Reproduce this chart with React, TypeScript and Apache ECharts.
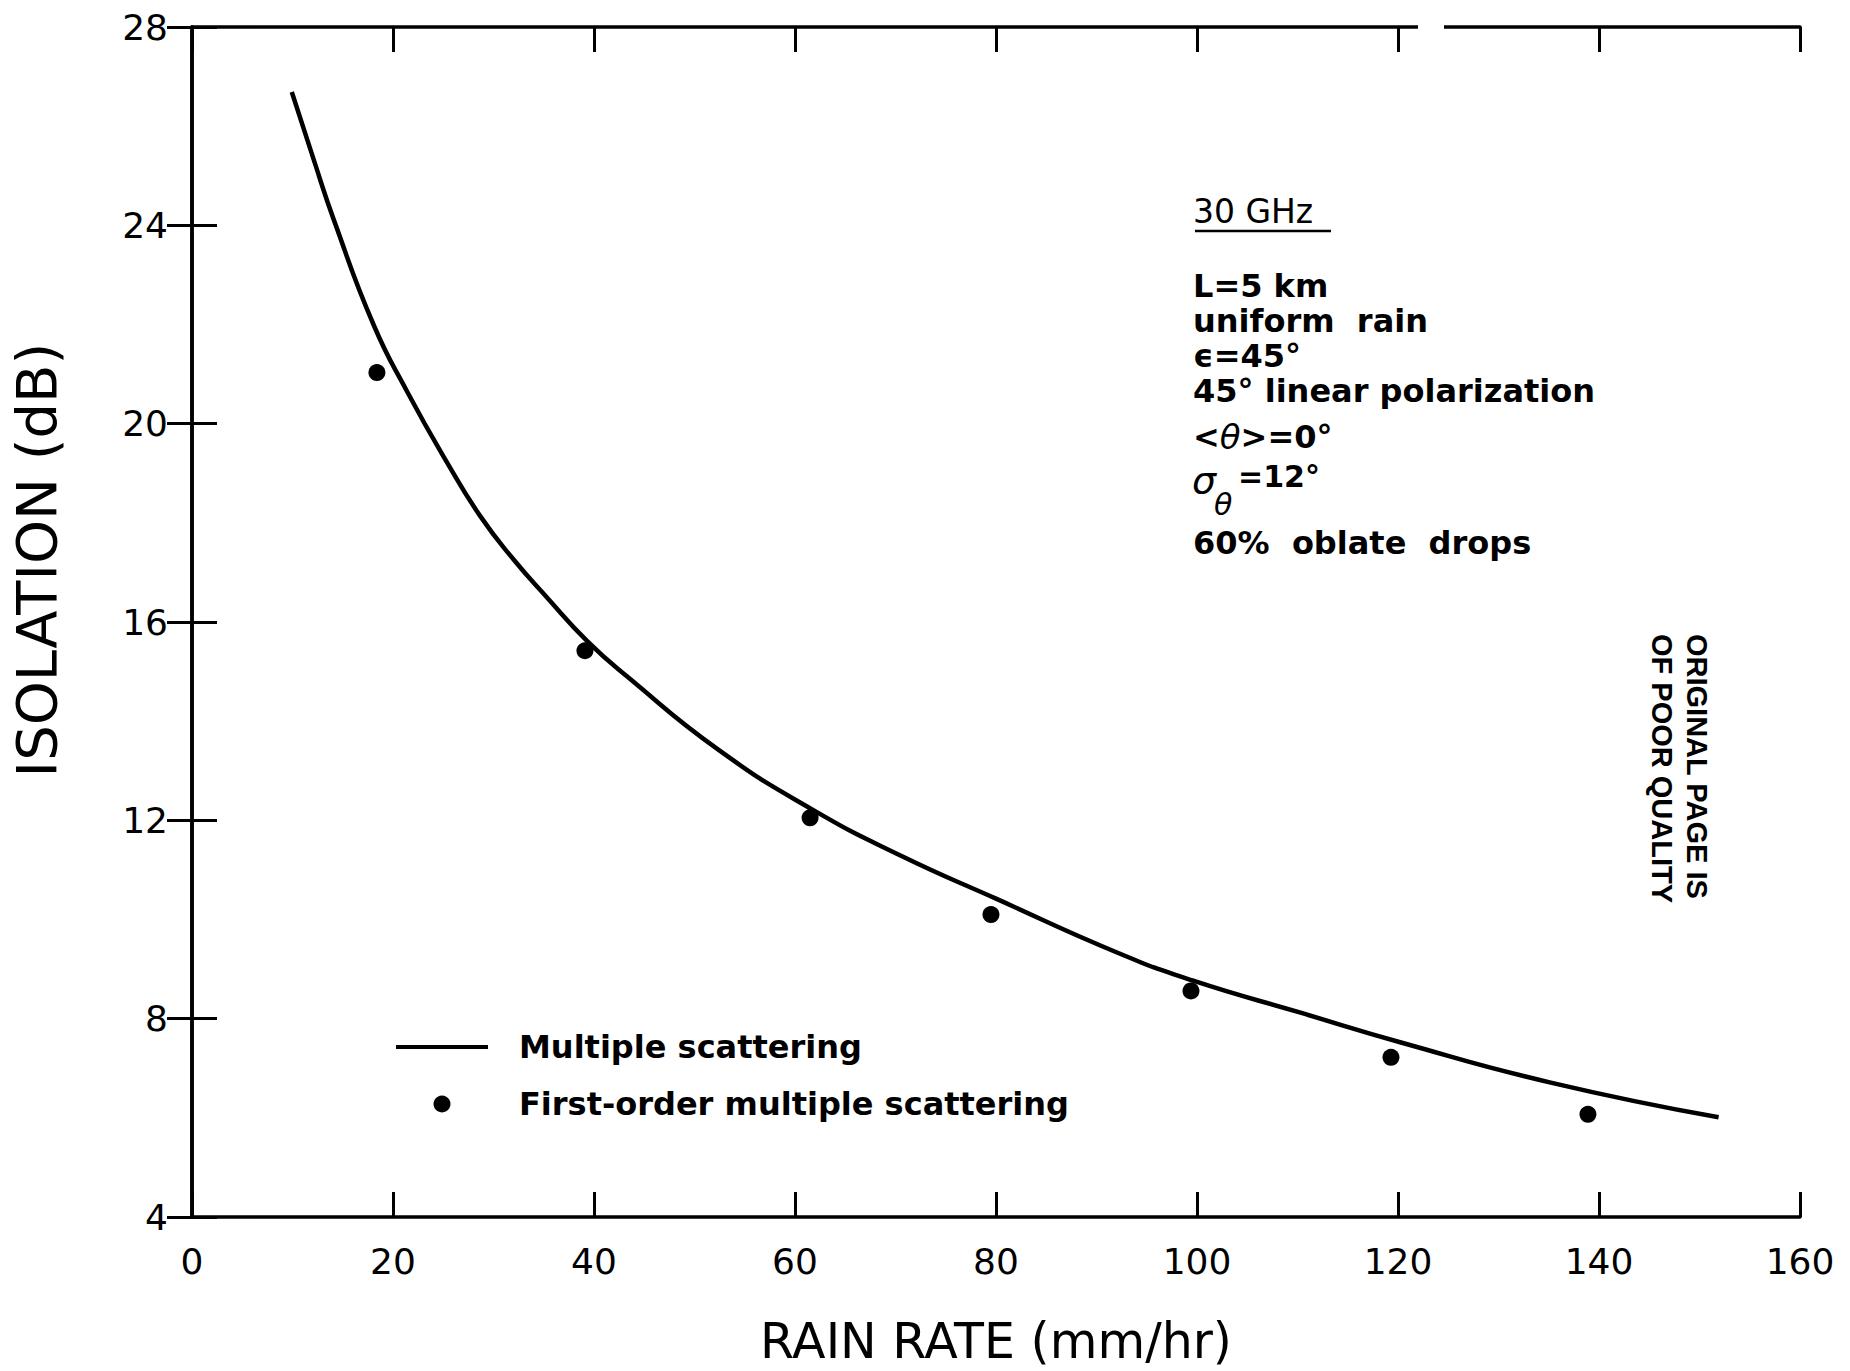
import React, { useEffect, useRef } from "react";
import * as echarts from "echarts";

// ---- data ----
const xTickValues = [0, 20, 40, 60, 80, 100, 120, 140, 160];
const yTickValues = [4, 8, 12, 16, 20, 24, 28];

const curveX = [9.93, 12.15, 14.13, 18.1, 21.4, 25.4, 28.7, 32.0, 35.3, 39.3, 43.3, 52.4, 61.7, 70.6, 80.0, 92.1, 99.7, 110.3, 120.3, 135.2, 151.9];
const curveY = [26.69, 25.3, 24.1, 21.98, 20.65, 19.21, 18.13, 17.26, 16.5, 15.62, 14.9, 13.42, 12.22, 11.28, 10.42, 9.33, 8.76, 8.12, 7.52, 6.71, 6.01];

const dotX = [18.4, 39.1, 61.5, 79.5, 99.4, 119.3, 138.9];
const dotY = [21.03, 15.42, 12.05, 10.1, 8.56, 7.22, 6.07];

const seriesNames = ["Multiple scattering", "First-order multiple scattering"];
const xTitle = "RAIN RATE (mm/hr)";
const yTitle = "ISOLATION (dB)";

const F = "'DejaVu Sans', sans-serif";
const BLACK = "#000";

export default function App() {
  const ref = useRef<HTMLDivElement>(null);

  useEffect(() => {
    if (!ref.current) return;
    const chart = echarts.init(ref.current, null, { renderer: "svg" });

    const axisLine = { show: true, lineStyle: { color: BLACK, width: 3.5 } };
    const tick = { show: true, inside: true, length: 25, lineStyle: { color: BLACK, width: 3 } };

    const xMin = xTickValues[0];
    const xMax = xTickValues[xTickValues.length - 1];
    const xInt = xTickValues[1] - xTickValues[0];
    const yMin = yTickValues[0];
    const yMax = yTickValues[yTickValues.length - 1];
    const yInt = yTickValues[1] - yTickValues[0];

    const note = (text: string, y: number, extra: any = {}) => ({
      type: "text", x: 1193, y,
      style: { text, fontSize: 32, fontWeight: "bold", fontFamily: F, fill: BLACK, verticalAlign: "middle", ...extra },
    });

    const option: any = {
      animation: false,
      backgroundColor: "#fff",
      grid: { left: 190, right: 50, top: 27, bottom: 153, containLabel: false },
      xAxis: [
        {
          type: "value", min: xMin, max: xMax, interval: xInt, position: "bottom",
          axisLine, axisTick: tick, splitLine: { show: false },
          axisLabel: { fontSize: 36, color: BLACK, fontFamily: F, margin: 26 },
          name: xTitle, nameLocation: "middle", nameGap: 100,
          nameTextStyle: { fontSize: 49, color: BLACK, fontFamily: F },
        },
        {
          type: "value", min: xMin, max: xMax, interval: xInt, position: "top",
          axisLine, axisTick: tick, splitLine: { show: false }, axisLabel: { show: false },
        },
      ],
      yAxis: [
        {
          type: "value", min: yMin, max: yMax, interval: yInt, position: "left",
          axisLine, axisTick: tick, splitLine: { show: false },
          axisLabel: { fontSize: 36, color: BLACK, fontFamily: F, margin: 24 },
          name: yTitle, nameLocation: "middle", nameGap: 128, nameRotate: 90,
          nameTextStyle: { fontSize: 56, color: BLACK, fontFamily: F, padding: [0, 0, 0, 124] },
        },
        {
          type: "value", min: yMin, max: yMax, interval: yInt, position: "right",
          axisLine, axisTick: tick, splitLine: { show: false }, axisLabel: { show: false },
        },
      ],
      legend: {
        orient: "vertical", left: 389, top: 1026,
        itemWidth: 92, itemHeight: 17, itemGap: 25,
        textStyle: { fontSize: 32, fontWeight: "bold", color: BLACK, fontFamily: F, padding: [0, 0, 0, 26] },
        data: [
          { name: seriesNames[0], itemStyle: { opacity: 0 }, lineStyle: { width: 4, color: BLACK } },
          { name: seriesNames[1] },
        ],
      },
      series: [
        {
          name: seriesNames[0], type: "line", smooth: 0.5,
          symbol: "none", showSymbol: false,
          lineStyle: { color: BLACK, width: 4.5 }, itemStyle: { color: BLACK },
          data: curveX.map((x, i) => [x, curveY[i]]),
        },
        {
          name: seriesNames[1], type: "scatter", symbol: "circle", symbolSize: 17,
          itemStyle: { color: BLACK, opacity: 1 },
          data: dotX.map((x, i) => [x, dotY[i]]),
        },
      ],
      graphic: [
        note("30 GHz", 211, { fontSize: 33, fontWeight: "normal" }),
        { type: "line", shape: { x1: 1195, y1: 231, x2: 1331, y2: 231 }, style: { stroke: BLACK, lineWidth: 2.5 } },
        {
          type: "text", x: 1193, y: 268.5,
          style: {
            text: "L=5 km\nuniform  rain\nϵ=45°\n45° linear polarization",
            fontSize: 32, fontWeight: "bold", lineHeight: 35, fontFamily: F, fill: BLACK, verticalAlign: "top",
          },
        },
        note("{n|<}{i|θ}{n|>=0°}", 437, {
          rich: {
            n: { fontSize: 32, fontWeight: "bold", fontFamily: F, fill: BLACK },
            i: { fontSize: 34, fontFamily: F, fontStyle: "italic", fill: BLACK },
          },
        }),
        { type: "text", x: 1192, y: 480, style: { text: "σ", fontSize: 38, fontFamily: F, fontStyle: "italic", fill: BLACK, verticalAlign: "middle" } },
        { type: "text", x: 1214, y: 504, style: { text: "θ", fontSize: 30, fontFamily: F, fontStyle: "italic", fill: BLACK, verticalAlign: "middle" } },
        { type: "text", x: 1238, y: 476, style: { text: "=12°", fontSize: 30, fontWeight: "bold", fontFamily: F, fill: BLACK, verticalAlign: "middle" } },
        note("60%  oblate  drops", 543),
        {
          type: "text", x: 1697, y: 634, rotation: -Math.PI / 2,
          style: { text: "ORIGINAL PAGE IS", fontSize: 29, fontWeight: "bold", fontFamily: "'Liberation Sans', sans-serif", fill: BLACK, align: "left", verticalAlign: "middle" },
        },
        {
          type: "text", x: 1662, y: 634, rotation: -Math.PI / 2,
          style: { text: "OF POOR QUALITY", fontSize: 29, fontWeight: "bold", fontFamily: "'Liberation Sans', sans-serif", fill: BLACK, align: "left", verticalAlign: "middle" },
        },
        { type: "rect", z: 100, shape: { x: 1418, y: 18, width: 26, height: 16 }, style: { fill: "#fff" } },
      ],
    };

    chart.setOption(option);
    return () => chart.dispose();
  }, []);

  return (
    <div
      ref={ref}
      style={{ position: "absolute", left: 0, top: 0, width: 1850, height: 1371, background: "#fff" }}
    />
  );
}
